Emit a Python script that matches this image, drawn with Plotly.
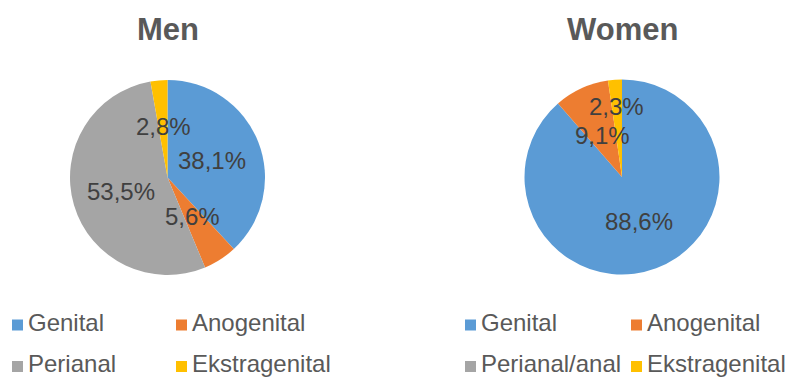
import math
import plotly.graph_objects as go

# ---- data ----
categories_men = ["Genital", "Anogenital", "Perianal", "Ekstragenital"]
values_men = [38.1, 5.6, 53.5, 2.8]
categories_women = ["Genital", "Anogenital", "Perianal/anal", "Ekstragenital"]
values_women = [88.6, 9.1, 0.0, 2.3]
titles = ["Men", "Women"]

# ---- style / layout ----
W, H = 786, 378
colors = ["#5B9BD5", "#ED7D31", "#A5A5A5", "#FFC000"]
FONT = "Liberation Sans, Arial, sans-serif"
pie_centers = [(167.5, 177.5), (622.0, 177.0)]
pie_radius = 97.5
label_radius = [[0.49, 0.48, 0.50, 0.52], [0.49, 0.47, 0.5, 0.72]]
title_y = 29
legend_rows_y = [322, 363.5]
legend_cols_x = [[12, 176], [465, 631]]
sq = 11

fig = go.Figure()
annotations = []
shapes = []

def px(x):
    return x / W

def py(y):
    return 1 - y / H

for i, (cats, vals) in enumerate([(categories_men, values_men), (categories_women, values_women)]):
    cx, cy = pie_centers[i]
    fig.add_trace(go.Pie(
        labels=cats, values=vals, sort=False, direction="clockwise", rotation=0,
        textinfo="none", showlegend=False,
        marker=dict(colors=colors, line=dict(width=0)),
        domain=dict(x=[px(cx - pie_radius), px(cx + pie_radius)],
                    y=[py(cy + pie_radius), py(cy - pie_radius)]),
        hovertemplate="%{label}: %{value}%<extra></extra>",
    ))
    total = sum(vals)
    cum = 0.0
    for j, v in enumerate(vals):
        if v > 0:
            th = 2 * math.pi * (cum + v / 2) / total
            r = pie_radius * label_radius[i][j]
            annotations.append(dict(
                x=px(cx + r * math.sin(th)), y=py(cy - r * math.cos(th)),
                xref="paper", yref="paper", showarrow=False,
                text=f"{v:.1f}%".replace(".", ","),
                font=dict(family=FONT, size=24, color="#404040"),
                xanchor="center", yanchor="middle"))
        cum += v
    # title
    annotations.append(dict(
        x=px(cx), y=py(title_y), xref="paper", yref="paper", showarrow=False,
        text=titles[i], font=dict(family=FONT, size=31, color="#595959", weight="bold"),
        xanchor="center", yanchor="middle"))
    # legend (2x2)
    for j, c in enumerate(cats):
        row, col = divmod(j, 2)
        x0 = legend_cols_x[i][col]
        yc = legend_rows_y[row]
        shapes.append(dict(type="rect", xref="paper", yref="paper",
                           x0=px(x0), x1=px(x0 + sq), y0=py(yc + 3 + sq / 2), y1=py(yc + 3 - sq / 2),
                           fillcolor=colors[j], line=dict(width=0)))
        annotations.append(dict(
            x=px(x0 + sq + 3), y=py(yc), xref="paper", yref="paper", showarrow=False,
            text=c, font=dict(family=FONT, size=24, color="#595959"),
            xanchor="left", yanchor="middle"))

fig.update_layout(
    width=W, height=H, margin=dict(l=0, r=0, t=0, b=0),
    paper_bgcolor="white", plot_bgcolor="white",
    annotations=annotations, shapes=shapes, showlegend=False,
)
fig.write_html("out.html")
